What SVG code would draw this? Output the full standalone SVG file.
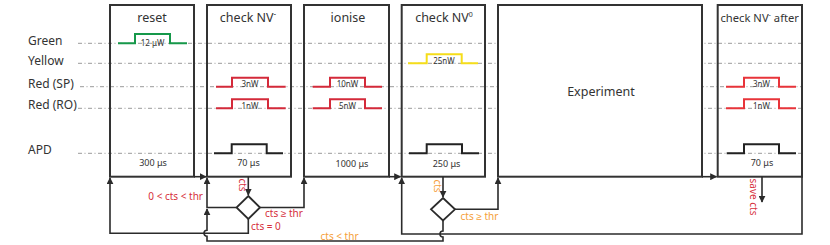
<svg xmlns="http://www.w3.org/2000/svg" width="830" height="245" viewBox="0 0 830 245">
<defs>
<style>
text{font-family:"Noto Sans","Liberation Sans",sans-serif;fill:#333}
.row{font-size:12px}
.title{font-size:12.5px;text-anchor:middle}
.lbl{font-size:8px;text-anchor:middle}
.tm{font-size:9px;text-anchor:middle}
.red{fill:#d6303c}
.org{fill:#f5a03a}
.cond{font-size:10px}
.grid{stroke:#9a9a9a;stroke-width:1;stroke-dasharray:4 2.5 1 2.5;fill:none}
.box{fill:none;stroke:#333;stroke-width:2}
.p{fill:none;stroke-width:2;stroke-linejoin:miter}
.g{stroke:#16984a}
.y{stroke:#f5dd1a}
.r{stroke:#d42a3a}
.r2{stroke:#e8343a}
.k{stroke:#222}
.c{fill:none;stroke:#2b2b2b;stroke-width:1.6}
.dia{fill:#fff;stroke:#2b2b2b;stroke-width:1.8}
</style>
<marker id="ah" viewBox="0 0 10 10" refX="9" refY="5" markerWidth="7" markerHeight="7" markerUnits="userSpaceOnUse" orient="auto">
<path d="M0,0 L10,5 L0,10 z" fill="#2b2b2b"/>
</marker>
</defs>
<rect width="830" height="245" fill="#fff"/>

<g id="rows">
<text class="row" x="28" y="45">Green</text>
<text class="row" x="28" y="64.5">Yellow</text>
<text class="row" x="28" y="88">Red (SP)</text>
<text class="row" x="28" y="109">Red (RO)</text>
<text class="row" x="28" y="154">APD</text>
<path class="grid" d="M78,43.3 H801 M78,63.3 H801 M80,86.7 H801 M78,108.3 H801 M78,153.3 H801"/>
</g>

<g id="reset">
<rect class="box" x="110" y="5" width="84" height="171.7"/>
<text class="title" x="152" y="22">reset</text>
<path class="p g" d="M118,43.3 H135 V34 H170 V43.3 H187"/>
<text class="lbl" x="152.5" y="45.5">12 μW</text>
<text class="tm" x="153" y="166">300 μs</text>
</g>

<g id="checkNVminus">
<rect class="box" x="207" y="5" width="84" height="171.7"/>
<text class="title" x="248" y="22">check NV<tspan font-size="8" dy="-5">-</tspan></text>
<path class="p r" d="M216,86.7 H232 V77.7 H268 V86.7 H285.7"/>
<text class="lbl" x="250" y="87">3nW</text>
<path class="p r" d="M216,108.3 H232 V99.3 H268 V108.3 H285.7"/>
<text class="lbl" x="250" y="108.5">1nW</text>
<path class="p k" d="M214,153.3 H231.7 V144.3 H266.7 V153.3 H283"/>
<text class="tm" x="248.5" y="166">70 μs</text>
</g>

<g id="ionise">
<rect class="box" x="304" y="5" width="85" height="171.7"/>
<text class="title" x="348" y="22">ionise</text>
<path class="p r" d="M312.7,86.7 H330 V77.7 H365 V86.7 H382"/>
<text class="lbl" x="347.5" y="87">10nW</text>
<path class="p r" d="M312.7,108.3 H330 V99.3 H365 V108.3 H382"/>
<text class="lbl" x="347.5" y="108.5">5nW</text>
<text class="tm" x="352" y="167">1000 μs</text>
</g>

<g id="checkNV0">
<rect class="box" x="401.7" y="5" width="83.3" height="171.7"/>
<text class="title" x="444" y="22">check NV<tspan font-size="7" dy="-5">0</tspan></text>
<path class="p y" d="M408,63.3 H426.7 V54.3 H461.7 V63.3 H478"/>
<text class="lbl" x="444" y="64">25nW</text>
<path class="p k" d="M409,153.3 H426.7 V144.3 H462 V153.3 H479"/>
<text class="tm" x="446.5" y="166.5">250 μs</text>
</g>

<g id="experiment">
<rect x="498" y="5" width="204" height="171.7" fill="#fff" stroke="#333" stroke-width="2"/>
<text class="title" x="601" y="95.5">Experiment</text>
</g>

<g id="checkNVafter">
<rect class="box" x="717.7" y="5" width="84.3" height="171.7"/>
<text x="720.5" y="22" font-size="11.5" textLength="78.5" lengthAdjust="spacingAndGlyphs">check NV<tspan font-size="7.5" dy="-5">-</tspan><tspan dy="5"> after</tspan></text>
<path class="p r2" d="M726,86.7 H744 V77.7 H779 V86.7 H796"/>
<text class="lbl" x="761.5" y="87">3nW</text>
<path class="p r2" d="M726,108.3 H744 V99.3 H779 V108.3 H796"/>
<text class="lbl" x="761.5" y="108.5">1nW</text>
<path class="p k" d="M726.7,153.3 H744 V144.3 H779 V153.3 H796"/>
<text class="tm" x="762" y="166">70 μs</text>
</g>

<g id="connectors">
<path class="c" d="M194,176.7 H206" marker-end="url(#ah)"/>
<path class="c" d="M389,176.7 H400.5" marker-end="url(#ah)"/>
<path class="c" d="M702,176.7 H716.5" marker-end="url(#ah)"/>
<path class="c" d="M248.3,176.7 V195" marker-end="url(#ah)"/>
<path class="c" d="M236,207.5 H207 V178" marker-end="url(#ah)"/>
<path class="c" d="M260,207.5 H304 V178" marker-end="url(#ah)"/>
<path class="c" d="M248.3,218.5 V233.3 H110 V178" marker-end="url(#ah)"/>
<path class="c" d="M443,176.7 V197" marker-end="url(#ah)"/>
<path class="c" d="M455,209.3 H498 V178" marker-end="url(#ah)"/>
<path class="c" d="M443,220.5 V231 A3,3 0 0 0 443,237 V241 H207 V236.3 A3,3 0 0 1 207,230.3 V209" marker-end="url(#ah)"/>
<path class="c" d="M802,176.7 V234 H401.7 V178" marker-end="url(#ah)"/>
<path class="c" d="M762,176.7 V202" marker-end="url(#ah)"/>
<path class="dia" d="M248.3,196 L260,207.5 L248.3,219 L236.5,207.5 z"/>
<path class="dia" d="M443,198 L455,209.3 L443,220.5 L431,209.3 z"/>
<text class="cond red" x="242" y="185" text-anchor="middle" transform="rotate(90 242 185)" dy="3.5">cts</text>
<text class="cond red" x="203" y="199.5" text-anchor="end">0 &lt; cts &lt; thr</text>
<text class="cond red" x="265" y="216.5">cts ≥ thr</text>
<text class="cond red" x="251" y="230">cts = 0</text>
<text class="cond org" x="437" y="186" text-anchor="middle" transform="rotate(90 437 186)" dy="3.5">cts</text>
<text class="cond org" x="460.5" y="220">cts ≥ thr</text>
<text class="cond org" x="320.5" y="239.5">cts &lt; thr</text>
<text class="cond red" x="753" y="197" text-anchor="middle" transform="rotate(90 753 197)" dy="3.5">save cts</text>
</g>
</svg>
